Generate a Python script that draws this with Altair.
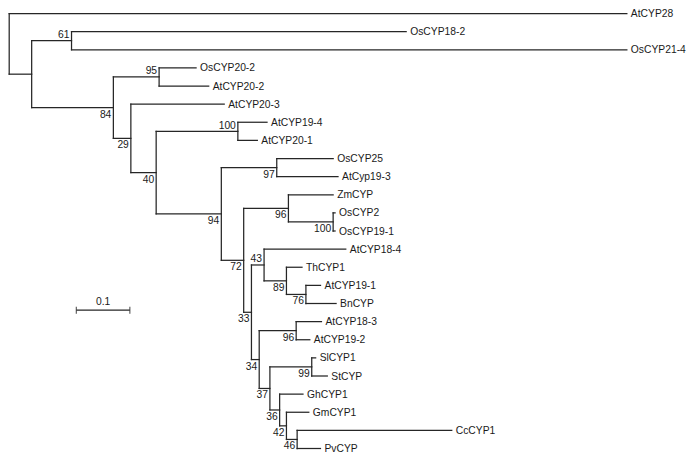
import altair as alt
import pandas as pd

# ---- tree data ----
node_names = ["root", "AtCYP28", "nA", "n61", "OsCYP18-2", "OsCYP21-4",
              "n84", "n95", "OsCYP20-2", "AtCYP20-2", "n29", "AtCYP20-3",
              "n40", "n100a", "AtCYP19-4", "AtCYP20-1", "n94", "n97",
              "OsCYP25", "AtCyp19-3", "n72", "n96a", "ZmCYP", "n100b",
              "OsCYP2", "OsCYP19-1", "n33", "n43", "AtCYP18-4", "n89",
              "ThCYP1", "n76", "AtCYP19-1", "BnCYP", "n34", "n96b",
              "AtCYP18-3", "AtCYP19-2", "n37", "n99", "SlCYP1", "StCYP",
              "n36", "GhCYP1", "n42", "GmCYP1", "n46", "CcCYP1", "PvCYP"]
node_parents = [None, "root", "root", "nA", "n61", "n61",
                "nA", "n84", "n95", "n95", "n84", "n29",
                "n29", "n40", "n100a", "n100a", "n40", "n94",
                "n97", "n97", "n94", "n72", "n96a", "n96a",
                "n100b", "n100b", "n72", "n33", "n43", "n43",
                "n89", "n89", "n76", "n76", "n33", "n34",
                "n96b", "n96b", "n34", "n37", "n99", "n99",
                "n37", "n36", "n36", "n42", "n42", "n46", "n46"]
branch_lengths = [0.0, 1.1545, 0.042, 0.0745, 0.6255, 1.038,
                  0.1527, 0.0855, 0.0691, 0.0927, 0.0327, 0.1745,
                  0.0473, 0.1527, 0.0545, 0.0364, 0.1218, 0.1036,
                  0.1055, 0.1145, 0.0418, 0.0836, 0.0836, 0.0836,
                  0.0036, 0.0036, 0.0145, 0.0236, 0.1527, 0.0418,
                  0.0291, 0.0364, 0.0273, 0.0564, 0.0145, 0.0691,
                  0.0473, 0.0255, 0.0200, 0.0782, 0.0073, 0.0291,
                  0.0182, 0.0436, 0.0127, 0.0418, 0.0200, 0.289, 0.0436]
bootstrap = {"n61": 61, "n84": 84, "n95": 95, "n29": 29, "n40": 40,
             "n100a": 100, "n94": 94, "n97": 97, "n72": 72, "n96a": 96,
             "n100b": 100, "n33": 33, "n43": 43, "n89": 89, "n76": 76,
             "n34": 34, "n96b": 96, "n37": 37, "n99": 99, "n36": 36,
             "n42": 42, "n46": 46}
labels_above = ["n61", "n95", "n100a", "n43"]
scale_bar_length = 0.1
scale_bar_label = "0.1"

# ---- layout computed from the tree ----
children = {}
for n, p in zip(node_names, node_parents):
    if p is not None:
        children.setdefault(p, []).append(n)
bl = dict(zip(node_names, branch_lengths))
X, Y = {}, {}
counter = [0]


def walk(n, x):
    X[n] = x
    ch = children.get(n, [])
    if not ch:
        Y[n] = counter[0]
        counter[0] += 1
    else:
        for c in ch:
            walk(c, x + bl[c])
        Y[n] = (Y[ch[0]] + Y[ch[-1]]) / 2


walk("root", 0.0)

segs = []
for n, p in zip(node_names, node_parents):
    if p is not None:
        segs.append({"x": X[p], "x2": X[n], "y": Y[n], "y2": Y[n]})
    ch = children.get(n, [])
    if ch:
        segs.append({"x": X[n], "x2": X[n], "y": Y[ch[0]], "y2": Y[ch[-1]]})
seg_df = pd.DataFrame(segs)

leaves = [n for n in node_names if n not in children]
leaf_df = pd.DataFrame({"name": leaves, "x": [X[n] for n in leaves], "y": [Y[n] for n in leaves]})
bs_df = pd.DataFrame({"label": [str(v) for v in bootstrap.values()],
                      "x": [X[k] for k in bootstrap],
                      "y": [Y[k] for k in bootstrap],
                      "side": ["above" if k in labels_above else "below" for k in bootstrap]})

bar_x0 = 0.1255
bar_y = 16.37
bar_df = pd.DataFrame({"x": [bar_x0], "x2": [bar_x0 + scale_bar_length], "y": [bar_y], "y2": [bar_y],
                       "xm": [bar_x0 + scale_bar_length / 2], "label": [scale_bar_label]})
tick_df = pd.DataFrame({"x": [bar_x0, bar_x0 + scale_bar_length], "y": [bar_y, bar_y]})

W, H = 681, 447
px_per_unit = 535.0
x_lo = -1.2 / px_per_unit
x_hi = x_lo + W / px_per_unit
s = 435.0 / 24
y_lo = -5.5 / s
y_hi = y_lo + H / s

xs = alt.Scale(domain=[x_lo, x_hi], nice=False, zero=False)
ys = alt.Scale(domain=[y_lo, y_hi], nice=False, zero=False, reverse=True)
FONT = "Liberation Sans"
FS = 10.3
LINE = "#262626"
TXT = "#1a1a1a"

lines = alt.Chart(seg_df).mark_rule(color=LINE, strokeWidth=1.25, strokeCap="square").encode(
    x=alt.X("x:Q", scale=xs, axis=None), x2="x2:Q",
    y=alt.Y("y:Q", scale=ys, axis=None), y2="y2:Q")

leaf_txt = alt.Chart(leaf_df).mark_text(align="left", baseline="middle", dx=4, dy=0.5,
                                        font=FONT, fontSize=FS, color=TXT).encode(
    x=alt.X("x:Q", scale=xs), y=alt.Y("y:Q", scale=ys), text="name:N")

bs_above = alt.Chart(bs_df).transform_filter(alt.datum.side == "above").mark_text(
    align="right", baseline="middle", dx=-2, dy=-5.5, font=FONT, fontSize=FS, color=TXT).encode(
    x=alt.X("x:Q", scale=xs), y=alt.Y("y:Q", scale=ys), text="label:N")
bs_below = alt.Chart(bs_df).transform_filter(alt.datum.side == "below").mark_text(
    align="right", baseline="middle", dx=-2, dy=7, font=FONT, fontSize=FS, color=TXT).encode(
    x=alt.X("x:Q", scale=xs), y=alt.Y("y:Q", scale=ys), text="label:N")

bar = alt.Chart(bar_df).mark_rule(color=LINE, strokeWidth=1.25).encode(
    x=alt.X("x:Q", scale=xs), x2="x2:Q", y=alt.Y("y:Q", scale=ys), y2="y2:Q")
bar_ticks = alt.Chart(tick_df).mark_tick(orient="vertical", color=LINE, thickness=1.25, size=7).encode(
    x=alt.X("x:Q", scale=xs), y=alt.Y("y:Q", scale=ys))
bar_lbl = alt.Chart(bar_df).mark_text(align="center", baseline="middle", dy=-8,
                                      font=FONT, fontSize=FS, color=TXT).encode(
    x=alt.X("xm:Q", scale=xs), y=alt.Y("y:Q", scale=ys), text="label:N")

chart = alt.layer(lines, leaf_txt, bs_above, bs_below, bar, bar_ticks, bar_lbl).properties(
    width=W, height=H, padding=0, autosize="none", background="white"
).configure_view(stroke=None)

chart.save("out.html", embed_options={"renderer": "svg", "actions": False})
